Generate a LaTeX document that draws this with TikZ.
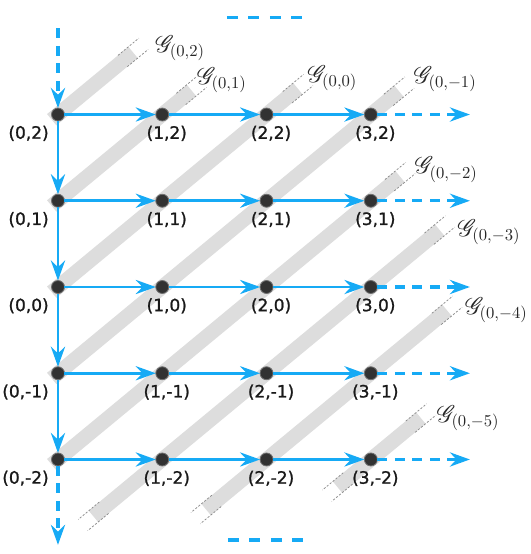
\documentclass[tikz,border=0pt]{standalone}
\usepackage{fontspec}
\usepackage{mathrsfs}
\newfontfamily\labelfont[FakeBold=1.2]{DejaVu Sans}
\usetikzlibrary{arrows.meta, positioning}
\definecolor{latblue}{RGB}{22, 170, 245}
\definecolor{bandgray}{RGB}{221, 221, 221}
\definecolor{pointdark}{RGB}{50, 50, 50}

\begin{document}
\begin{tikzpicture}[
  x=62.58pt, y=51.75pt,
  dot/.style      = {circle, fill=pointdark, draw=pointdark!70, line width=0.5pt,
                     minimum size=7.8pt, inner sep=0pt, outer sep=0pt},
  lab/.style      = {font=\labelfont\fontsize{10.2}{12}\selectfont, text=black!90, inner sep=0pt},
  glabel/.style   = {font=\Large, text=black!85, inner sep=0pt, anchor=west},
  arrow/.style    = {-{Stealth[length=12pt, width=8.5pt, inset=4pt]}, line width=1.7pt, color=latblue},
  dasharrow/.style = {arrow, line width=2pt, dash pattern=on 6pt off 4.5pt},
  dashline/.style = {color=latblue, line width=2.3pt, dash pattern=on 6.6pt off 6.3pt},
  band/.style     = {line width=8.8pt, color=bandgray},
  bandedge/.style = {line width=0.45pt, color=black!45, dash pattern=on 1.3pt off 1pt},
  edgeup/.style   = {bandedge, xshift=-2.8pt, yshift=3.39pt},
  edgedn/.style   = {bandedge, xshift=2.8pt, yshift=-3.39pt}
]
\useasboundingbox (-0.556,-3.096) rectangle (4.535,3.328);

%% Diagonal bands G_(0,k)
\foreach \k/\a/\b in {2/-0.06/0.72, 1/-0.06/1.28, 0/-0.06/2.3, -1/-0.06/3.27,
                      -2/-0.06/3.28, -3/0.34/3.66, -4/1.42/3.73, -5/2.68/3.48}{
  \draw[band] ({\a},{\a+\k}) -- ({\b},{\b+\k});
  \draw[edgeup] ({\b-0.1},{\b+\k-0.1}) -- ({\b+0.1},{\b+\k+0.1});
  \draw[edgedn] ({\b-0.1},{\b+\k-0.1}) -- ({\b+0.1},{\b+\k+0.1});
}
\foreach \k/\a in {-3/0.34, -4/1.42, -5/2.68}{
  \draw[edgeup] ({\a+0.1},{\a+\k+0.1}) -- ({\a-0.1},{\a+\k-0.1});
  \draw[edgedn] ({\a+0.1},{\a+\k+0.1}) -- ({\a-0.1},{\a+\k-0.1});
}

%% Lattice points
\foreach \j in {2,1,0,-1,-2}{
  \node[dot, label={[lab, xshift=-2.6pt, yshift=-3.8pt]below left:{(0,\j)}}] (n0\j) at (0,\j) {};
  \foreach \i in {1,2,3}
    \node[dot, label={[lab, xshift=2.7pt, yshift=-2.7pt]below:{(\i,\j)}}] (n\i\j) at (\i,\j) {};
}

%% Free ends
\coordinate (top) at (0,3.0);
\coordinate (bot) at (0,-2.99);
\foreach \j in {2,1,0,-1,-2}
  \coordinate (r\j) at (3.95,\j);
\coordinate (tl) at (1.62,3.125);
\coordinate (tr) at (2.35,3.125);
\coordinate (bl) at (1.63,-2.933);
\coordinate (br) at (2.37,-2.933);

%% Arrows
\foreach \j in {2,1,0,-1,-2}{
  \draw[arrow] (n0\j) -- (n1\j);
  \draw[arrow] (n1\j) -- (n2\j);
  \draw[arrow] (n2\j) -- (n3\j);
  \draw[dasharrow] (n3\j) -- (r\j);
}
\draw[arrow] (n02) -- (n01);
\draw[arrow] (n01) -- (n00);
\draw[arrow] (n00) -- (n0-1);
\draw[arrow] (n0-1) -- (n0-2);
\draw[dasharrow] (top) -- (n02);
\draw[dasharrow] (n0-2) -- (bot);
\draw[dashline] (tl) -- (tr);
\draw[dashline] (bl) -- (br);

%% Labels
\node[glabel] (g2) at (0.93,2.77) {$\mathscr{G}_{(0,2)}$};
\node[glabel] (g1) at (1.33,2.40) {$\mathscr{G}_{(0,1)}$};
\node[glabel] (g0) at (2.39,2.42) {$\mathscr{G}_{(0,0)}$};
\node[glabel] (gm1) at (3.41,2.41) {$\mathscr{G}_{(0,-1)}$};
\node[glabel] (gm2) at (3.42,1.36) {$\mathscr{G}_{(0,-2)}$};
\node[glabel] (gm3) at (3.83,0.64) {$\mathscr{G}_{(0,-3)}$};
\node[glabel] (gm4) at (3.90,-0.27) {$\mathscr{G}_{(0,-4)}$};
\node[glabel] (gm5) at (3.63,-1.52) {$\mathscr{G}_{(0,-5)}$};

\end{tikzpicture}
\end{document}
